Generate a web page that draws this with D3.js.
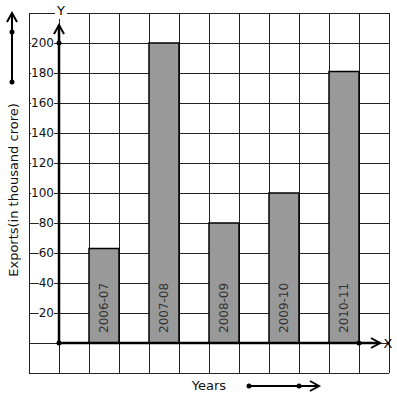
<!DOCTYPE html>
<html>
<head>
<meta charset="utf-8">
<script src="https://cdn.jsdelivr.net/npm/d3@7"></script>
<style>
  body { margin: 0; background: #fff; }
  text { font-family: "DejaVu Sans", sans-serif; }
</style>
</head>
<body>
<div id="chart"></div>
<script>
const years = ["2006-07", "2007-08", "2008-09", "2009-10", "2010-11"]
const exports = [63, 200, 80, 100, 181]
const yTicks = [20, 40, 60, 80, 100, 120, 140, 160, 180, 200]

const W = 397, H = 399

const svg = d3.select("#chart").append("svg")
  .attr("width", W).attr("height", H)

// grid columns: -1..11, origin column 0, bars on odd columns
const x = d3.scaleLinear().domain([-1, 11]).range([29, 389])
const y = d3.scaleLinear().domain([-20, 220]).range([373, 13])

const cols = d3.range(-1, 12)
const rows = d3.range(-20, 221, 20)

// grid
svg.append("g").selectAll("line").data(cols).join("line")
  .attr("x1", d => x(d)).attr("x2", d => x(d))
  .attr("y1", y(-20)).attr("y2", y(220))
  .attr("stroke", "#222").attr("stroke-width", 1)
  .attr("shape-rendering", "crispEdges")
svg.append("g").selectAll("line").data(rows).join("line")
  .attr("x1", x(-1)).attr("x2", x(11))
  .attr("y1", d => y(d)).attr("y2", d => y(d))
  .attr("stroke", "#222").attr("stroke-width", 1)
  .attr("shape-rendering", "crispEdges")

// bars
svg.append("g").selectAll("rect").data(exports).join("rect")
  .attr("x", (d, i) => x(1 + i * 2))
  .attr("width", x(1) - x(0))
  .attr("y", d => y(d))
  .attr("height", d => y(0) - y(d))
  .attr("fill", "#999999")
  .attr("stroke", "#000").attr("stroke-width", 1.5)

// year labels inside bars
svg.append("g").selectAll("text").data(years).join("text")
  .attr("transform", (d, i) => `translate(${x(1 + i * 2) + 15 + 4},${y(0) - 10}) rotate(-90)`)
  .attr("font-size", 12)
  .attr("fill", "#333")
  .text(d => d)

// y tick labels with white background
const tickG = svg.append("g")
yTicks.forEach(v => {
  const t = tickG.append("text")
    .attr("x", 54).attr("y", y(v) + 4)
    .attr("text-anchor", "end")
    .attr("font-size", 12)
    .attr("fill", "#111")
    .text(v)
  const b = t.node().getBBox()
  tickG.insert("rect", "text")
    .attr("x", b.x).attr("y", y(v) - 3)
    .attr("width", b.width).attr("height", 6)
    .attr("fill", "#fff")
})

// axes
const axisColor = "#000"
svg.append("line")
  .attr("x1", x(0)).attr("x2", x(0))
  .attr("y1", y(0)).attr("y2", y(212))
  .attr("stroke", axisColor).attr("stroke-width", 2.5)
svg.append("line")
  .attr("x1", x(0)).attr("x2", x(10.7))
  .attr("y1", y(0)).attr("y2", y(0))
  .attr("stroke", axisColor).attr("stroke-width", 2.5)

const chevron = (pts) => svg.append("path")
  .attr("d", d3.line()(pts))
  .attr("fill", "none").attr("stroke", "#000").attr("stroke-width", 2)

// y axis arrow head
chevron([[x(0) - 5, y(212) + 9], [x(0), y(212)], [x(0) + 5, y(212) + 9]])
// x axis arrow head
chevron([[x(10.7) - 9, y(0) - 5], [x(10.7), y(0)], [x(10.7) - 9, y(0) + 5]])

svg.append("g").selectAll("circle")
  .data([[x(0), y(0)], [x(0), y(200)], [x(10), y(0)]])
  .join("circle")
  .attr("cx", d => d[0]).attr("cy", d => d[1]).attr("r", 2.5)
  .attr("fill", "#000")

// axis letters
svg.append("rect").attr("x", 55).attr("y", 5).attr("width", 12).attr("height", 14).attr("fill", "#fff")
svg.append("text").attr("x", 61).attr("y", 15).attr("text-anchor", "middle")
  .attr("font-size", 13).text("Y")
svg.append("text").attr("x", 388).attr("y", 348).attr("text-anchor", "middle")
  .attr("font-size", 13).text("X")

// left decoration arrow
svg.append("line").attr("x1", 12).attr("x2", 12).attr("y1", 82).attr("y2", 14)
  .attr("stroke", "#000").attr("stroke-width", 2)
chevron([[7, 22], [12, 13], [17, 22]])
svg.append("circle").attr("cx", 12).attr("cy", 32).attr("r", 2.5)
svg.append("circle").attr("cx", 12).attr("cy", 82).attr("r", 2.5)

// bottom decoration arrow
svg.append("line").attr("x1", 249).attr("x2", 318).attr("y1", 386).attr("y2", 386)
  .attr("stroke", "#000").attr("stroke-width", 2)
chevron([[310, 381], [319, 386], [310, 391]])
svg.append("circle").attr("cx", 249).attr("cy", 386).attr("r", 2.5)
svg.append("circle").attr("cx", 299).attr("cy", 386).attr("r", 2.5)

// axis titles
svg.append("text")
  .attr("transform", "translate(18,190) rotate(-90)")
  .attr("text-anchor", "middle")
  .attr("font-size", 13)
  .attr("fill", "#111")
  .text("Exports(in thousand crore)")
svg.append("text")
  .attr("x", 209).attr("y", 390)
  .attr("text-anchor", "middle")
  .attr("font-size", 13)
  .attr("fill", "#111")
  .text("Years")
</script>
</body>
</html>
